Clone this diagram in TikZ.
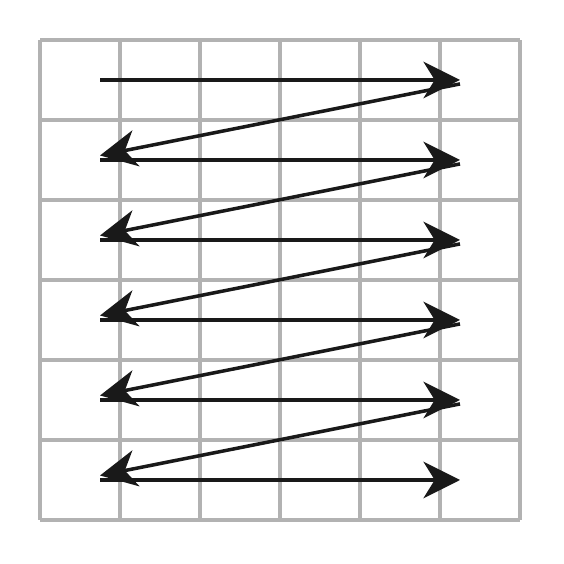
\documentclass[tikz,border=0pt]{standalone}
\usepackage{tikz}
\usetikzlibrary{arrows.meta}
\tikzset{gridline/.style = {gray!60, line width=1.1pt},
         zigzag/.style = {draw=black!90, line width=1.25pt,
                          -{Stealth[length=13pt, width=13pt, inset=4pt]}}}

\begin{document}
\begin{tikzpicture}
    \useasboundingbox (0, 0) rectangle (7.05, 7.05);
    \draw [gridline, shift={(0.5, 0.55)}] (0, 0) grid (6, 6);

    % rows from the top
    \foreach \r in {1, ..., 6} {
        \coordinate (l\r) at (1.25, 7.05 - \r);
        \coordinate (r\r) at (5.75, 7.05 - \r);
        \draw [zigzag] (l\r) -- (r\r);
    }
    \foreach \r [evaluate=\r as \s using int(\r+1)] in {1, ..., 5} {
        \draw [zigzag] ([yshift=-1.4pt]r\r) -- ([yshift=1.6pt]l\s);
    }
  \end{tikzpicture}
\end{document}
